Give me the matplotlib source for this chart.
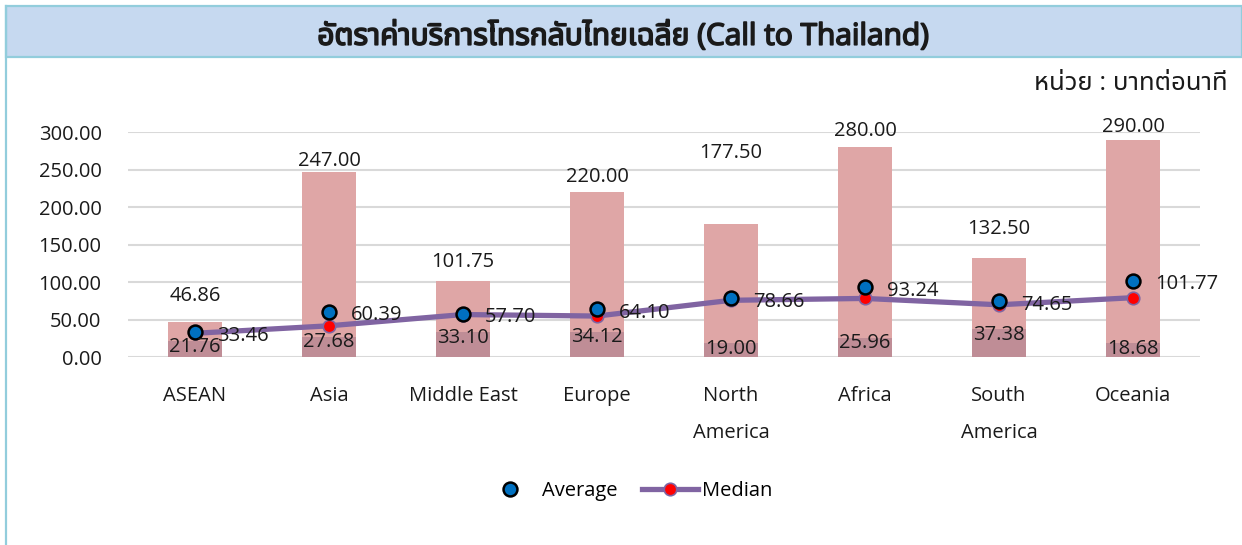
import matplotlib
matplotlib.use("Agg")
import matplotlib.pyplot as plt
import matplotlib.font_manager as fm
import matplotlib.patheffects as pe
from matplotlib.ft2font import FT2Font
from matplotlib.patches import Rectangle
from matplotlib.lines import Line2D
import numpy as np

categories = ["ASEAN", "Asia", "Middle East", "Europe", "North\nAmerica",
              "Africa", "South\nAmerica", "Oceania"]
max_rate = [46.86, 247.00, 101.75, 220.00, 177.50, 280.00, 132.50, 290.00]
min_rate = [21.76, 27.68, 33.10, 34.12, 19.00, 25.96, 37.38, 18.68]
avg_rate = [33.46, 60.39, 57.70, 64.10, 78.66, 93.24, 74.65, 101.77]
median_rate = [32.0, 42.0, 57.0, 55.0, 76.0, 78.5, 70.0, 79.5]

title = "อัตราค่าบริการโทรกลับไทยเฉลี่ย (Call to Thailand)"
unit_text = "หน่วย : บาทต่อนาที"

# label offsets above the max bars (pixels), Excel placed them by hand
max_label_dy = [26, 11, 19, 15, 71, 16, 29, 13]


def find_thai_font():
    names = []
    for f in fm.fontManager.ttflist:
        try:
            if 0x0E2D in FT2Font(f.fname).get_charmap():
                names.append(f.name)
        except Exception:
            pass
    for pref in ["Noto Sans Thai", "Noto Sans Thai UI", "Loma", "Garuda", "Norasi"]:
        if pref in names:
            return pref
    return names[0] if names else "DejaVu Sans"


thai_font = find_thai_font()
plt.rcParams['font.family'] = ['Open Sans', thai_font, 'DejaVu Sans']

W, H = 1242, 545
fig = plt.figure(figsize=(W / 100, H / 100), dpi=100)

def px(x, y):
    return x / W, 1 - y / H

FS = 14.5
txt = '#1a1a1a'

# frame and title box
border = '#92cddc'
fig.patches.append(Rectangle(px(6, 57), (W - 6) / W, 51 / H, transform=fig.transFigure,
                             facecolor='#c6d9f0', edgecolor=border, linewidth=1.6))
fig.lines.append(Line2D([6 / W, 6 / W], [0, 1 - 6 / H], transform=fig.transFigure,
                        color=border, linewidth=1.6))
# thai font has no bold face, so thicken the title with a stroke
fig.text(*px(623, 37), title, ha='center', va='center', fontsize=21.5, color=txt,
         path_effects=[pe.withStroke(linewidth=1.2, foreground=txt)])
fig.text(*px(1228, 83), unit_text, ha='right', va='center', fontsize=18.5, color=txt)

ax = fig.add_axes([128 / W, 1 - 357.3 / H, 1072 / W, 225 / H])
x = np.arange(len(categories))

ax.bar(x, max_rate, width=0.4, color='#dfa6a6', zorder=2)
ax.bar(x, min_rate, width=0.4, color='#bf8d96', zorder=2)
line_med, = ax.plot(x, median_rate, color='#8064a2', linewidth=3.8, marker='o',
                    markersize=9, markerfacecolor='#ff0000', markeredgecolor='#8064a2',
                    markeredgewidth=1.2, zorder=3, label='Median')
line_avg, = ax.plot(x, avg_rate, linestyle='none', marker='o', markersize=10,
                    markerfacecolor='#0070c0', markeredgecolor='black',
                    markeredgewidth=1.8, zorder=4, label='Average')

for i in range(len(x)):
    ax.annotate(f"{max_rate[i]:.2f}", (x[i], max_rate[i]),
                xytext=(0, max_label_dy[i] * 0.72), textcoords='offset points',
                ha='center', va='center', fontsize=FS, color=txt, annotation_clip=False)
    ax.annotate(f"{min_rate[i]:.2f}", (x[i], min_rate[i]),
                xytext=(0, -4), textcoords='offset points',
                ha='center', va='center', fontsize=FS, color=txt, zorder=5)
    ax.annotate(f"{avg_rate[i]:.2f}", (x[i], avg_rate[i]),
                xytext=(16, -2.5), textcoords='offset points',
                ha='left', va='center', fontsize=FS, color=txt, zorder=5,
                annotation_clip=False)

ax.set_xlim(-0.5, len(x) - 0.5)
ax.set_ylim(0, 300)
ax.set_yticks(np.arange(0, 301, 50))
ax.yaxis.set_major_formatter(matplotlib.ticker.FormatStrFormatter('%.2f'))
ax.set_xticks(x)
ax.set_xticklabels(categories, linespacing=2.1)
ax.tick_params(axis='both', length=0, labelsize=FS, colors=txt)
ax.tick_params(axis='x', pad=21)
ax.tick_params(axis='y', pad=19)
ax.grid(axis='y', color='#d9d9d9', linewidth=1.5, zorder=0)
ax.set_axisbelow(True)
for s in ax.spines.values():
    s.set_visible(False)

fig.legend(handles=[line_avg, line_med], labels=['Average', 'Median'], ncol=2,
           loc='center', bbox_to_anchor=px(627, 491), frameon=False, fontsize=FS,
           handlelength=2.8, columnspacing=1.2, handletextpad=0.2)

fig.savefig("out.png", dpi=100)
